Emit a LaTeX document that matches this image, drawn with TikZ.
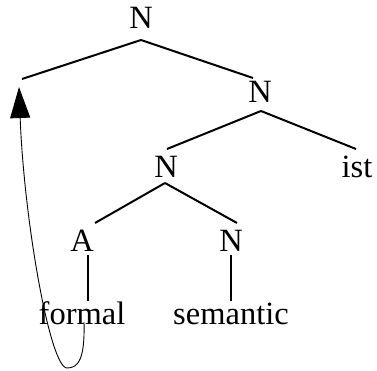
\documentclass[tikz,border=0pt]{standalone}
\usepackage{fontspec}
\setmainfont{Liberation Serif}
\usetikzlibrary{arrows.meta,calc}
\begin{document}
\begin{tikzpicture}[x=1pt,y=1pt,
  lab/.style={anchor=base,inner sep=0pt,font=\fontsize{32.5}{34}\selectfont},
  edge/.style={line width=2pt},
  link/.style={line width=0.9pt}]
\useasboundingbox (0,0) rectangle (377,370);
\node[lab] (n1) at (141,341) {N};
\node[lab] (n2) at (260,267) {N};
\node[lab] (n3) at (166,193) {N};
\node[lab] (ist) at (357,193) {ist};
\node[lab] (a) at (82,119) {A};
\node[lab] (n4) at (231,119) {N};
\node[lab] (formal) at (82,46) {formal};
\node[lab] (sem) at (231,46) {semantic};
\coordinate (e) at (22,291);
\coordinate (tip) at (19,283);
\coordinate (start) at ($(formal.base)+(2,2)$);
% tree edges
\draw[edge] ($(n1.base)+(0,-11)$) -- (e);
\draw[edge] ($(n1.base)+(0,-11)$) -- ($(n2.base)+(-7,25)$);
\draw[edge] ($(n2.base)+(1,-8)$) -- ($(n3.base)+(1,28)$);
\draw[edge] ($(n2.base)+(1,-8)$) -- ($(ist.base)+(-1,28)$);
\draw[edge] ($(n3.base)+(-1,-6)$) -- ($(a.base)+(13,28)$);
\draw[edge] ($(n3.base)+(-1,-6)$) -- ($(n4.base)+(6,28)$);
\draw[edge] ($(a.base)+(6,-4)$) -- ($(formal.base)+(6,23)$);
\draw[edge] ($(n4.base)+(0,-4)$) -- ($(sem.base)+(0,23)$);
% movement arrow
\draw[link,-{Triangle[length=31pt,width=20pt]}] (start) .. controls (85,10) and (78,2) .. (67,2)
  .. controls (50,2) and (24,150) .. (tip);
\end{tikzpicture}
\end{document}
